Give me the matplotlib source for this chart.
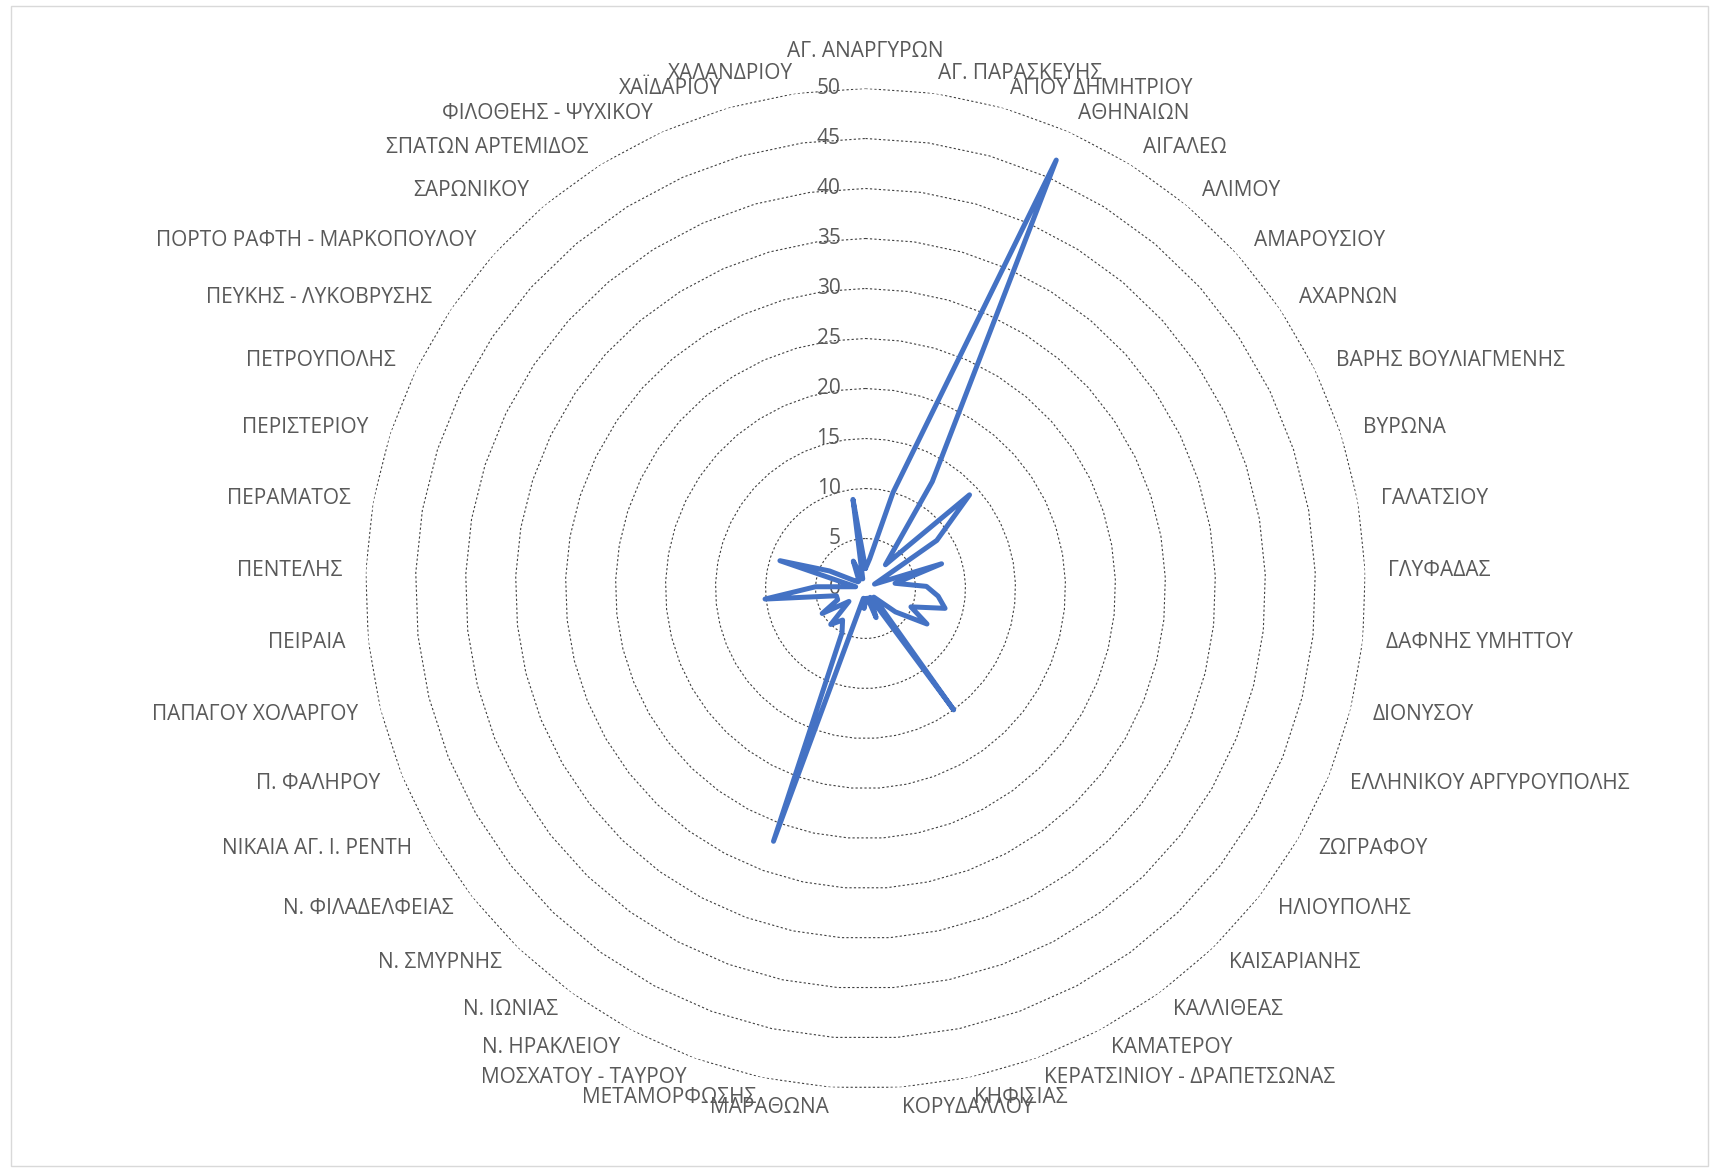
import numpy as np
import matplotlib
matplotlib.use("Agg")
import matplotlib.pyplot as plt
from matplotlib.patches import Rectangle

# δήμοι (κατηγορίες) και τιμές, με τη σειρά του γραφήματος
districts = ['ΑΓ. ΑΝΑΡΓΥΡΩΝ', 'ΑΓ. ΠΑΡΑΣΚΕΥΗΣ', 'ΑΓΙΟΥ ΔΗΜΗΤΡΙΟΥ', 'ΑΘΗΝΑΙΩΝ',
             'ΑΙΓΑΛΕΩ', 'ΑΛΙΜΟΥ', 'ΑΜΑΡΟΥΣΙΟΥ', 'ΑΧΑΡΝΩΝ', 'ΒΑΡΗΣ ΒΟΥΛΙΑΓΜΕΝΗΣ',
             'ΒΥΡΩΝΑ', 'ΓΑΛΑΤΣΙΟΥ', 'ΓΛΥΦΑΔΑΣ', 'ΔΑΦΝΗΣ ΥΜΗΤΤΟΥ', 'ΔΙΟΝΥΣΟΥ',
             'ΕΛΛΗΝΙΚΟΥ ΑΡΓΥΡΟΥΠΟΛΗΣ', 'ΖΩΓΡΑΦΟΥ', 'ΗΛΙΟΥΠΟΛΗΣ', 'ΚΑΙΣΑΡΙΑΝΗΣ',
             'ΚΑΛΛΙΘΕΑΣ', 'ΚΑΜΑΤΕΡΟΥ', 'ΚΕΡΑΤΣΙΝΙΟΥ - ΔΡΑΠΕΤΣΩΝΑΣ', 'ΚΗΦΙΣΙΑΣ',
             'ΚΟΡΥΔΑΛΛΟΥ', 'ΜΑΡΑΘΩΝΑ', 'ΜΕΤΑΜΟΡΦΩΣΗΣ', 'ΜΟΣΧΑΤΟΥ - ΤΑΥΡΟΥ',
             'Ν. ΗΡΑΚΛΕΙΟΥ', 'Ν. ΙΩΝΙΑΣ', 'Ν. ΣΜΥΡΝΗΣ', 'Ν. ΦΙΛΑΔΕΛΦΕΙΑΣ',
             'ΝΙΚΑΙΑ ΑΓ. Ι. ΡΕΝΤΗ', 'Π. ΦΑΛΗΡΟΥ', 'ΠΑΠΑΓΟΥ ΧΟΛΑΡΓΟΥ', 'ΠΕΙΡΑΙΑ',
             'ΠΕΝΤΕΛΗΣ', 'ΠΕΡΑΜΑΤΟΣ', 'ΠΕΡΙΣΤΕΡΙΟΥ', 'ΠΕΤΡΟΥΠΟΛΗΣ',
             'ΠΕΥΚΗΣ - ΛΥΚΟΒΡΥΣΗΣ', 'ΠΟΡΤΟ ΡΑΦΤΗ - ΜΑΡΚΟΠΟΥΛΟΥ', 'ΣΑΡΩΝΙΚΟΥ',
             'ΣΠΑΤΩΝ ΑΡΤΕΜΙΔΟΣ', 'ΦΙΛΟΘΕΗΣ - ΨΥΧΙΚΟΥ', 'ΧΑΪΔΑΡΙΟΥ', 'ΧΑΛΑΝΔΡΙΟΥ']

values = [2.0, 3.0, 10.0, 46.9, 12.6, 3.1, 14.0, 8.6, 1.0, 8.0,
          3.0, 6.1, 7.3, 8.2, 4.9, 7.1, 3.8, 1.2, 15.0, 1.0,
          3.1, 1.0, 1.0, 2.0, 1.0, 26.9, 5.0, 3.9, 5.0, 2.1,
          5.0, 3.0, 3.0, 10.1, 5.0, 1.0, 9.0, 4.0, 1.5, 1.0,
          1.0, 1.5, 3.0, 1.0, 9.0]

rings = [0, 5, 10, 15, 20, 25, 30, 35, 40, 45, 50]

LINE_COL = '#4472C4'
TXT_COL = '#595959'
PX = 0.72  # 1 pixel σε points (dpi=100)
FS = 15

plt.rcParams['font.family'] = ['Open Sans', 'DejaVu Sans']

fig = plt.figure(figsize=(17.17, 11.71), dpi=100)
fig.patches.append(Rectangle((11 / 1717, 5 / 1171), 1697 / 1717, 1160 / 1171,
                             transform=fig.transFigure, fill=False,
                             edgecolor='#d9d9d9', linewidth=1.0))

# κέντρο (865.5, 588.5) px, ακτίνα 500 px
ax = fig.add_axes([365.5 / 1717, (1171 - 588.5 - 500) / 1171, 1000 / 1717, 1000 / 1171],
                  projection='polar')
ax.set_theta_zero_location('N')
ax.set_theta_direction(-1)
ax.set_ylim(0, 50)
ax.set_xticks([])
ax.set_yticks([])
ax.grid(False)
ax.spines['polar'].set_visible(False)
ax.patch.set_alpha(0)

n = len(districts)
angles = np.arange(n) * 2 * np.pi / n
closed = np.append(angles, angles[0])

# πολυγωνικές γραμμές πλέγματος
for r in rings[1:]:
    ax.plot(closed, [r] * (n + 1), color='#404040', linewidth=0.8,
            linestyle=(0, (2.0, 2.0)), zorder=1)

# ετικέτες άξονα τιμών
for r in rings:
    ax.annotate(str(r), xy=(0, r), xytext=(-25 * PX, 0), textcoords='offset points',
                ha='right', va='center', fontsize=FS, color=TXT_COL, zorder=2)

# σειρά δεδομένων
ax.plot(closed, values + values[:1], color=LINE_COL, linewidth=3.6,
        solid_joinstyle='round', solid_capstyle='round', zorder=3)

# ετικέτες κατηγοριών
for ang, name in zip(angles, districts):
    s, c = np.sin(ang), np.cos(ang)
    if abs(s) < 1e-6:
        dx, dy, ha = 0, 37, 'center'
    else:
        dx, dy = 23 * s, 20 * c
        ha = 'left' if s > 0 else 'right'
    ax.annotate(name, xy=(ang, 50), xytext=(dx * PX, dy * PX), textcoords='offset points',
                ha=ha, va='center', fontsize=FS, color=TXT_COL, annotation_clip=False)

fig.savefig('out.png', dpi=100)
